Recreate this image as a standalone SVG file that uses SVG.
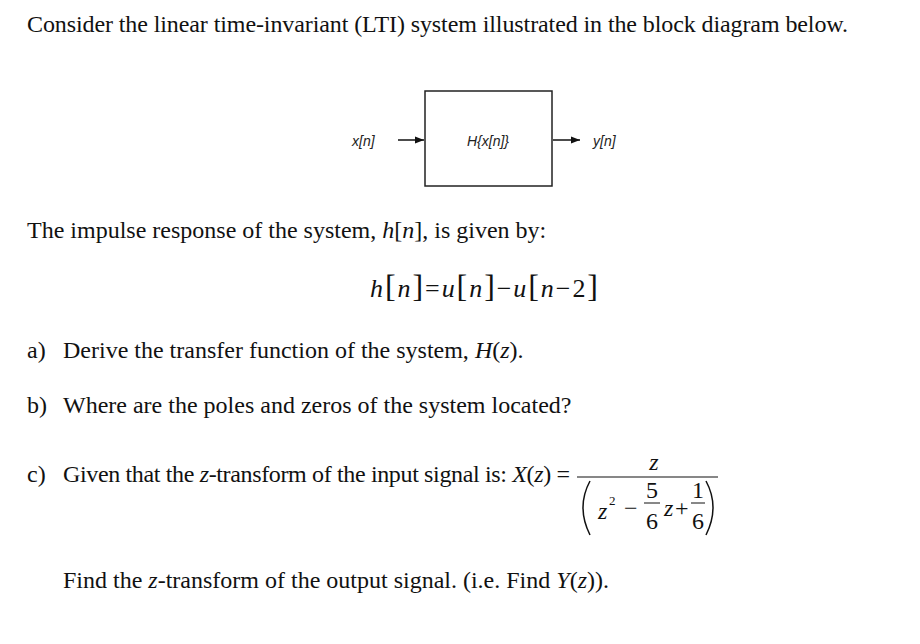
<svg xmlns="http://www.w3.org/2000/svg" width="920" height="644" viewBox="0 0 920 644">
<defs>
<style>
.t{font-family:"Liberation Serif",serif;font-size:24px;fill:#111}
.i{font-style:italic}
.s{font-family:"Liberation Sans",sans-serif;font-size:14px;font-style:italic;fill:#222}
</style>
<marker id="a" viewBox="0 0 10 10" refX="10" refY="5" markerWidth="6" markerHeight="6" orient="auto"><path d="M0,1 L10,5 L0,9 z" fill="#111"/></marker>
</defs>
<rect width="920" height="644" fill="#fff"/>
<text class="t" x="27" y="32" textLength="821">Consider the linear time-invariant (LTI) system illustrated in the block diagram below.</text>
<g id="input"><text class="s" x="352" y="146">x[n]</text></g>
<g id="block"><rect x="425" y="91" width="127" height="95" fill="#fff" stroke="#222" stroke-width="1.5"/><text class="s" x="488" y="146" text-anchor="middle">H{x[n]}</text></g>
<g id="output"><text class="s" x="593" y="146">y[n]</text></g>
<g id="connectors" stroke="#111" stroke-width="1.5">
<line x1="398" y1="140" x2="424" y2="140" marker-end="url(#a)"/>
<line x1="553" y1="140" x2="580" y2="140" marker-end="url(#a)"/>
</g>
<text class="t" x="27" y="238">The impulse response of the system, <tspan class="i">h</tspan>[<tspan class="i">n</tspan>], is given by:</text>
<text class="t" x="370" y="297" textLength="228" style="font-size:26px"><tspan class="i">h</tspan><tspan font-size="32">[</tspan><tspan class="i">n</tspan><tspan font-size="32">]</tspan>=<tspan class="i">u</tspan><tspan font-size="32">[</tspan><tspan class="i">n</tspan><tspan font-size="32">]</tspan>−<tspan class="i">u</tspan><tspan font-size="32">[</tspan><tspan class="i">n</tspan>−2<tspan font-size="32">]</tspan></text>
<text class="t" x="27" y="358">a)</text>
<text class="t" x="63" y="358">Derive the transfer function of the system, <tspan class="i">H</tspan>(<tspan class="i">z</tspan>).</text>
<text class="t" x="27" y="413">b)</text>
<text class="t" x="63" y="413">Where are the poles and zeros of the system located?</text>
<text class="t" x="27" y="482">c)</text>
<text class="t" x="63" y="482" textLength="507">Given that the <tspan class="i">z</tspan>-transform of the input signal is:  <tspan class="i">X</tspan>(<tspan class="i">z</tspan>) =</text>
<text class="t i" x="654" y="470" text-anchor="middle">z</text>
<line x1="577" y1="477" x2="718" y2="477" stroke="#111" stroke-width="1.2"/>
<path d="M590,481 Q576,507 590,535" fill="none" stroke="#111" stroke-width="1.5"/>
<path d="M706,481 Q720,507 706,535" fill="none" stroke="#111" stroke-width="1.5"/>
<text class="t i" x="598" y="519">z</text>
<text class="t" x="609" y="505" style="font-size:13px">2</text>
<text class="t" x="624" y="516">−</text>
<text class="t" x="652" y="498" text-anchor="middle">5</text>
<line x1="644" y1="503" x2="660" y2="503" stroke="#111" stroke-width="1"/>
<text class="t" x="652" y="529" text-anchor="middle">6</text>
<text class="t i" x="664" y="516">z</text>
<text class="t" x="675" y="516">+</text>
<text class="t" x="698" y="498" text-anchor="middle">1</text>
<line x1="691" y1="503" x2="705" y2="503" stroke="#111" stroke-width="1"/>
<text class="t" x="698" y="529" text-anchor="middle">6</text>
<text class="t" x="63" y="588">Find the <tspan class="i">z</tspan>-transform of the output signal. (i.e. Find <tspan class="i">Y</tspan>(<tspan class="i">z</tspan>)).</text>
</svg>
